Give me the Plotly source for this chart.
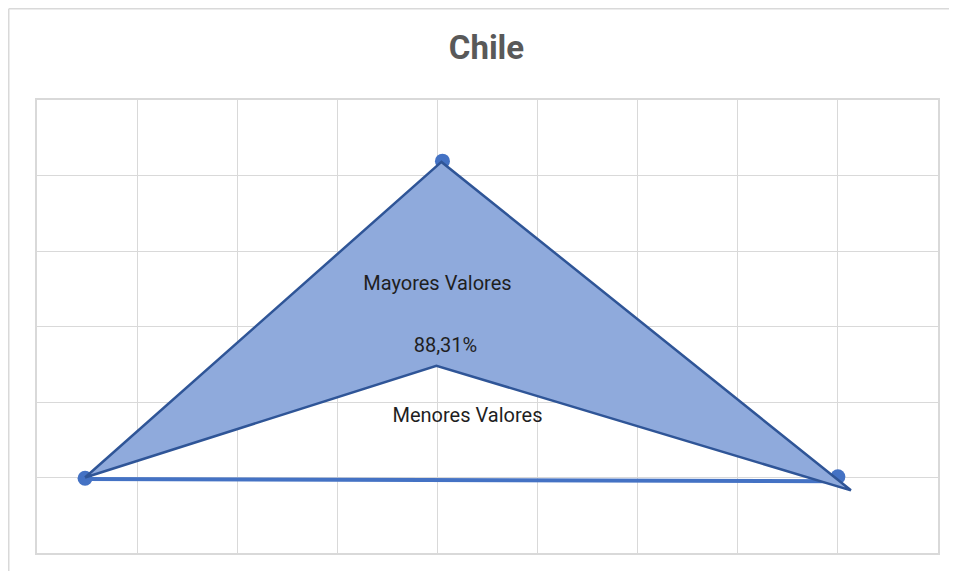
import plotly.graph_objects as go

# ---- data ----
title_text = "Chile"
shape_x = [0.48, 4.04, 8.13, 3.99, 0.48]
shape_y = [1.00, 5.18, 0.83, 2.48, 1.00]
base_x = [0.48, 8.00]
base_y = [0.98, 0.95]
point_x = [0.48, 4.05, 8.00]
point_y = [0.99, 5.19, 1.01]
label_texts = ["Mayores Valores", "88,31%", "Menores Valores"]
label_x = [4.00, 4.08, 4.30]
label_y = [3.55, 2.73, 1.80]

# page offset compensation (default 8px body margin of the html page,
# and keep the figure small enough that the page never scrolls)
OFF = 8
W, H = 957 - 2 * OFF, 579 - 2 * OFF

fig = go.Figure()

fig.add_trace(go.Scatter(
    x=base_x, y=base_y, mode="lines",
    line=dict(color="#4472C4", width=4),
    hoverinfo="skip", showlegend=False))

fig.add_trace(go.Scatter(
    x=point_x, y=point_y, mode="markers",
    marker=dict(color="#4472C4", size=15),
    hoverinfo="skip", showlegend=False))

fig.add_trace(go.Scatter(
    x=shape_x, y=shape_y, mode="lines", fill="toself",
    fillcolor="#8FAADC",
    line=dict(color="#2F5597", width=2.5),
    hoverinfo="skip", showlegend=False))

fig.add_trace(go.Scatter(
    x=label_x, y=label_y, mode="text", text=label_texts,
    textposition="middle center",
    textfont=dict(family="Roboto", size=20, color="#1f1f1f"),
    hoverinfo="skip", showlegend=False))

axis_common = dict(
    showgrid=True, gridcolor="#D9D9D9", gridwidth=1,
    zeroline=False, showticklabels=False, ticks="",
    showline=True, linecolor="#D9D9D9", linewidth=1.5, mirror=True,
    fixedrange=True,
)

pl, pt = 37 - OFF, 100 - OFF
pw, ph = 901, 453

bx = (0.75 - pl) / pw
by = 1 + (pt - 0.75) / ph
border = dict(color="#D9D9D9", width=1.5)

fig.update_layout(
    width=W, height=H,
    margin=dict(l=pl, r=W - pl - pw, t=pt, b=H - pt - ph, autoexpand=False),
    paper_bgcolor="white", plot_bgcolor="white",
    title=dict(text="<b>" + title_text + "</b>",
               x=(486.5 - OFF) / W, xanchor="center", xref="container",
               y=1 - (47 - OFF) / H, yanchor="middle", yref="container",
               font=dict(family="Roboto", size=33, color="#595959")),
    xaxis=dict(range=[0, 9], dtick=1, **axis_common),
    yaxis=dict(range=[0, 6], dtick=1, **axis_common),
    shapes=[
        dict(type="line", xref="paper", yref="paper",
             x0=bx, x1=bx, y0=-0.2, y1=by, line=border, layer="below"),
        dict(type="line", xref="paper", yref="paper",
             x0=bx, x1=1.3, y0=by, y1=by, line=border, layer="below"),
    ],
)

fig.write_html("out.html")
